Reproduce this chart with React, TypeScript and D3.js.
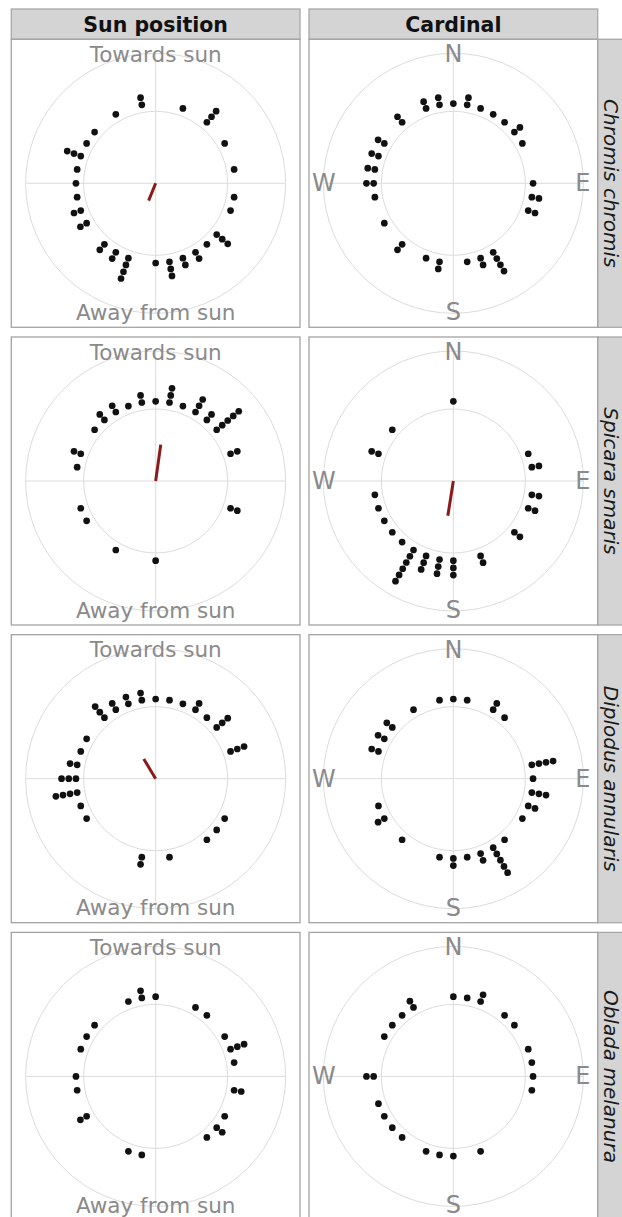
import * as d3 from "d3";

const SPECIES = ["Chromis chromis", "Spicara smaris", "Diplodus annularis", "Oblada melanura"];
const FRAMES = ["Sun position", "Cardinal"];

// [bin angle (deg, clockwise from top), number of stacked fish in that bin]
const chromisSun = [
  [350, 2], [20, 1], [40, 3], [60, 1], [80, 1], [100, 1], [110, 1], [130, 3], [140, 1],
  [150, 2], [160, 2], [170, 3], [180, 1], [200, 4], [210, 2], [220, 2], [240, 2], [250, 2],
  [260, 1], [270, 1], [280, 1], [290, 3], [300, 1], [310, 1], [330, 1],
];
const chromisCardinal = [
  [0, 1], [10, 2], [20, 1], [30, 1], [40, 1], [50, 2], [60, 1], [90, 1], [100, 2], [110, 2],
  [150, 4], [160, 2], [170, 1], [190, 2], [200, 1], [220, 2], [240, 1], [260, 1], [270, 2],
  [280, 2], [290, 2], [300, 2], [320, 2], [340, 2], [350, 2],
];
const spicaraSun = [
  [0, 1], [10, 3], [20, 1], [30, 3], [40, 2], [50, 5], [70, 2], [110, 2], [180, 1], [210, 1],
  [240, 1], [250, 1], [280, 1], [290, 2], [310, 1], [320, 2], [330, 2], [340, 1], [350, 2],
];
const spicaraCardinal = [
  [0, 1], [70, 1], [80, 2], [100, 2], [110, 2], [130, 2], [160, 2], [180, 3], [190, 3],
  [200, 3], [210, 6], [220, 1], [230, 1], [240, 1], [250, 1], [260, 1], [290, 2], [310, 1],
];
const diplodusSun = [
  [0, 1], [10, 1], [20, 1], [30, 2], [40, 1], [50, 3], [70, 3], [120, 1], [130, 1], [140, 1],
  [170, 1], [190, 2], [240, 1], [250, 1], [260, 4], [270, 3], [280, 2], [290, 1], [300, 1],
  [320, 3], [330, 2], [340, 2], [350, 2],
];
const diplodusCardinal = [
  [0, 1], [10, 1], [30, 2], [40, 1], [80, 4], [90, 1], [100, 3], [110, 2], [120, 1], [140, 1],
  [150, 5], [160, 2], [170, 1], [180, 2], [190, 1], [220, 1], [240, 2], [250, 1], [290, 2],
  [300, 2], [310, 2], [330, 1], [350, 1],
];
const obladaSun = [
  [0, 1], [30, 1], [40, 1], [60, 1], [70, 3], [80, 1], [100, 2], [120, 1], [130, 2], [140, 1],
  [190, 1], [200, 1], [240, 2], [260, 1], [270, 1], [290, 1], [300, 1], [310, 1], [340, 1],
  [350, 2],
];
const obladaCardinal = [
  [0, 1], [10, 1], [20, 2], [40, 1], [50, 1], [70, 1], [80, 1], [90, 1], [100, 1], [160, 1],
  [180, 1], [190, 1], [200, 1], [220, 1], [230, 1], [240, 1], [250, 1], [270, 2], [300, 1],
  [310, 1], [320, 1], [330, 2],
];

// mean resultant direction (deg) and length, null where not drawn
const meanSunAngle = [202, 8, 329, null];
const meanSunRho = [0.26, 0.51, 0.32, null];
const meanCardinalAngle = [null, 189, null, null];
const meanCardinalRho = [null, 0.49, null, null];

const TOP_LABELS = ["Towards sun", "N"];
const BOTTOM_LABELS = ["Away from sun", "S"];
const SIDE_LABELS = [["", ""], ["W", "E"]];

const DOTS = [
  [chromisSun, chromisCardinal],
  [spicaraSun, spicaraCardinal],
  [diplodusSun, diplodusCardinal],
  [obladaSun, obladaCardinal],
];
const MEANS = [
  [meanSunAngle, meanSunRho],
  [meanCardinalAngle, meanCardinalRho],
];

const W = 622;
const H = 1217;
const COL_X = [11.3, 309];
const PANEL_W = 288.7;
const PANEL_H = 288;
const ROW_Y0 = 39.3;
const ROW_PITCH = 297.7;
const STRIP_TOP = 9;
const STRIP_RIGHT_X = 597.5;

const INNER_R = 72;
const OUTER_R = 130;
const R0 = 79.7;
const STEP = 7.2;
const DOT_R = 3.35;

const FONT = "'DejaVu Sans', Verdana, sans-serif";
const GRID = "#dcdcdc";
const LABEL = "#8a8a8a";

const toRad = d3.scaleLinear().domain([0, 360]).range([0, 2 * Math.PI]);
const stackR = d3.scaleLinear().domain([0, 1]).range([R0, R0 + STEP]);
const rhoR = d3.scaleLinear().domain([0, 1]).range([0, INNER_R]);

function Panel({ row, col }: { row: number; col: number }) {
  const x0 = COL_X[col];
  const y0 = ROW_Y0 + row * ROW_PITCH;
  const cx = x0 + PANEL_W / 2;
  const cy = y0 + PANEL_H / 2;
  const bins = DOTS[row][col] as number[][];
  const dots: [number, number][] = [];
  bins.forEach(([ang, n]) => {
    for (let k = 0; k < n; k++) dots.push(d3.pointRadial(toRad(ang), stackR(k)) as [number, number]);
  });
  const mAng = MEANS[col][0][row];
  const mRho = MEANS[col][1][row];
  const tip = mAng == null ? null : d3.pointRadial(toRad(mAng), rhoR(mRho as number));
  const side = SIDE_LABELS[col];
  const fs = col === 0 ? 21.5 : 24;

  return (
    <g>
      <rect x={x0} y={y0} width={PANEL_W} height={PANEL_H} fill="#fff" stroke="#a3a3a3" strokeWidth={1.3} />
      <g transform={`translate(${cx},${cy})`}>
        <circle r={INNER_R} fill="none" stroke={GRID} strokeWidth={1} />
        <circle r={OUTER_R} fill="none" stroke={GRID} strokeWidth={1} />
        <line x1={-OUTER_R} x2={OUTER_R} y1={0} y2={0} stroke={GRID} strokeWidth={1} />
        <line x1={0} x2={0} y1={-OUTER_R} y2={OUTER_R} stroke={GRID} strokeWidth={1} />
        <g fill={LABEL} fontFamily={FONT} fontSize={fs} textAnchor="middle" dominantBaseline="central">
          <text x={0} y={-OUTER_R + 1}>{TOP_LABELS[col]}</text>
          <text x={0} y={OUTER_R - 1}>{BOTTOM_LABELS[col]}</text>
          {side[0] && <text x={-OUTER_R + 0.5} y={0}>{side[0]}</text>}
          {side[1] && <text x={OUTER_R - 0.5} y={0}>{side[1]}</text>}
        </g>
        {dots.map((p, i) => (
          <circle key={i} cx={p[0]} cy={p[1]} r={DOT_R} fill="#111" />
        ))}
        {tip && (
          <line x1={0} y1={0} x2={tip[0]} y2={tip[1]} stroke="#8b1a1a" strokeWidth={3} />
        )}
      </g>
    </g>
  );
}

export default function App() {
  return (
    <svg
      width={W}
      height={H}
      style={{ position: "absolute", left: 0, top: 0, background: "#fff" }}
    >
      {FRAMES.map((f, c) => (
        <g key={f}>
          <rect
            x={COL_X[c]}
            y={STRIP_TOP}
            width={PANEL_W}
            height={ROW_Y0 - STRIP_TOP}
            fill="#d4d4d4"
            stroke="#a8a8a8"
            strokeWidth={1.3}
          />
          <text
            x={COL_X[c] + PANEL_W / 2}
            y={31.5}
            textAnchor="middle"
            fontFamily={FONT}
            fontWeight="bold"
            fontSize={20.5}
            fill="#111"
          >
            {f}
          </text>
        </g>
      ))}
      {SPECIES.map((s, r) => {
        const y0 = ROW_Y0 + r * ROW_PITCH;
        return (
          <g key={s}>
            <rect
              x={STRIP_RIGHT_X}
              y={y0}
              width={40}
              height={PANEL_H}
              fill="#d4d4d4"
              stroke="#a8a8a8"
              strokeWidth={1.3}
            />
            <text
              transform={`translate(${STRIP_RIGHT_X + 6.5},${y0 + PANEL_H / 2}) rotate(90)`}
              textAnchor="middle"
              fontFamily={FONT}
              fontStyle="italic"
              fontSize={20}
              fill="#1a1a1a"
            >
              {s}
            </text>
          </g>
        );
      })}
      {SPECIES.map((s, r) =>
        FRAMES.map((f, c) => <Panel key={`${s}-${f}`} row={r} col={c} />)
      )}
    </svg>
  );
}
